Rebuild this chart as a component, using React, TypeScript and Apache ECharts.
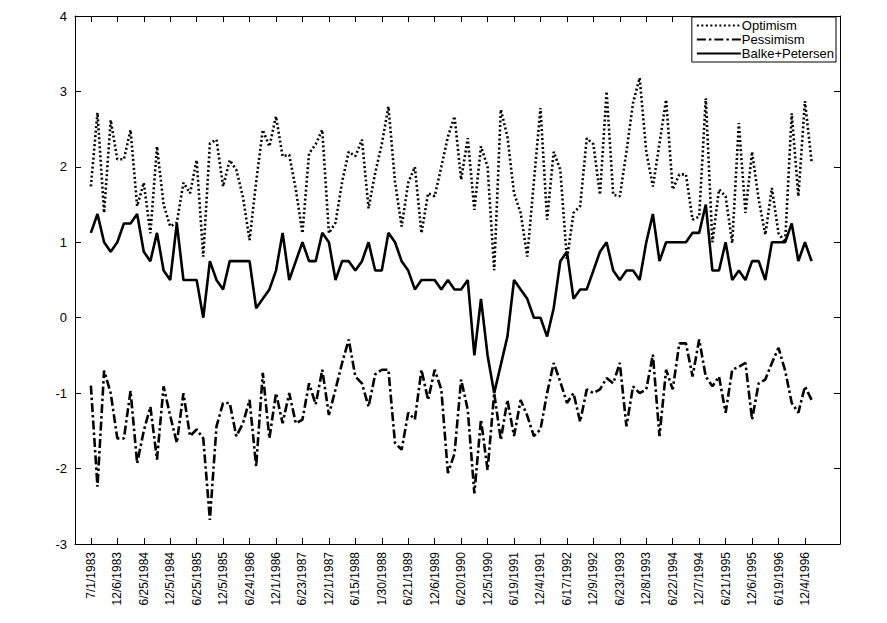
import { useEffect, useRef } from 'react';
import * as echarts from 'echarts';

// tick labels every 4th meeting (index into the series)
const tickLabels = [
  '7/1/1983', '12/6/1983', '6/25/1984', '12/5/1984', '6/25/1985', '12/5/1985', '6/24/1986',
  '12/1/1986', '6/23/1987', '12/1/1987', '6/15/1988', '1/30/1988', '6/21/1989', '12/6/1989',
  '6/20/1990', '12/5/1990', '6/19/1991', '12/4/1991', '6/17/1992', '12/9/1992', '6/23/1993',
  '12/8/1993', '6/22/1994', '12/7/1994', '6/21/1995', '12/6/1995', '6/19/1996', '12/4/1996',
];

const optimism = [
  1.74, 2.72, 1.39, 2.62, 2.1, 2.1, 2.49, 1.48, 1.79, 1.12,
  2.27, 1.5, 1.21, 1.26, 1.79, 1.65, 2.09, 0.81, 2.31, 2.36,
  1.74, 2.09, 1.96, 1.6, 1.03, 1.8, 2.49, 2.27, 2.67, 2.14,
  2.16, 1.7, 1.12, 2.18, 2.3, 2.49, 1.12, 1.26, 1.8, 2.2,
  2.14, 2.36, 1.45, 1.92, 2.3, 2.8, 1.8, 1.21, 1.79, 2.0,
  1.12, 1.65, 1.61, 2.0, 2.4, 2.67, 1.83, 2.38, 1.43, 2.27,
  2.0, 0.63, 2.76, 2.4, 1.65, 1.39, 0.81, 1.8, 2.78, 1.3,
  2.2, 1.96, 0.77, 1.39, 1.48, 2.38, 2.3, 1.63, 3.0, 1.63,
  1.61, 2.2, 2.85, 3.18, 2.2, 1.74, 2.31, 2.89, 1.7, 1.9,
  1.9, 1.3, 1.34, 2.91, 1.0, 1.7, 1.61, 0.99, 2.58, 1.39,
  2.2, 1.57, 1.1, 1.72, 1.12, 1.0, 2.71, 1.61, 2.87, 2.07,
];

const pessimism = [
  -0.9, -2.24, -0.7, -1.0, -1.6, -1.6, -0.97, -1.93, -1.5, -1.18,
  -1.88, -0.91, -1.3, -1.66, -1.0, -1.57, -1.48, -1.6, -2.68, -1.44,
  -1.13, -1.13, -1.57, -1.4, -1.09, -1.97, -0.73, -1.6, -1.0, -1.4,
  -1.0, -1.4, -1.35, -0.87, -1.15, -0.69, -1.29, -0.95, -0.6, -0.29,
  -0.78, -0.87, -1.18, -0.75, -0.69, -0.69, -1.66, -1.75, -1.26, -1.35,
  -0.69, -1.09, -0.69, -0.95, -2.06, -1.8, -0.82, -1.22, -2.33, -1.35,
  -2.02, -1.0, -1.62, -1.09, -1.57, -1.09, -1.3, -1.57, -1.48, -1.0,
  -0.6, -0.85, -1.13, -1.0, -1.38, -0.95, -1.0, -0.95, -0.8, -0.87,
  -0.6, -1.44, -0.91, -1.0, -0.95, -0.49, -1.57, -0.69, -0.95, -0.34,
  -0.34, -0.78, -0.29, -0.78, -0.91, -0.78, -1.26, -0.69, -0.65, -0.6,
  -1.35, -0.87, -0.82, -0.6, -0.4, -0.7, -1.13, -1.26, -0.91, -1.09,
];

const balkePetersen = [
  1.125, 1.375, 1.0, 0.875, 1.0, 1.25, 1.25, 1.375, 0.875, 0.75,
  1.125, 0.625, 0.5, 1.25, 0.5, 0.5, 0.5, 0.0, 0.75, 0.5,
  0.375, 0.75, 0.75, 0.75, 0.75, 0.125, 0.25, 0.375, 0.625, 1.125,
  0.5, 0.75, 1.0, 0.75, 0.75, 1.125, 1.0, 0.5, 0.75, 0.75,
  0.625, 0.75, 1.0, 0.625, 0.625, 1.125, 1.0, 0.75, 0.625, 0.375,
  0.5, 0.5, 0.5, 0.375, 0.5, 0.375, 0.375, 0.5, -0.5, 0.25,
  -0.5, -1.0, -0.625, -0.25, 0.5, 0.375, 0.25, 0.0, 0.0, -0.25,
  0.125, 0.75, 0.875, 0.25, 0.375, 0.375, 0.625, 0.875, 1.0, 0.625,
  0.5, 0.625, 0.625, 0.5, 1.0, 1.375, 0.75, 1.0, 1.0, 1.0,
  1.0, 1.125, 1.125, 1.5, 0.625, 0.625, 1.0, 0.5, 0.625, 0.5,
  0.75, 0.75, 0.5, 1.0, 1.0, 1.0, 1.25, 0.75, 1.0, 0.75,
];

const tickIdx = tickLabels.map((_, i) => i * 4);
const font = '"Liberation Sans", Arial, sans-serif';

const App = () => {
  const chartRef = useRef<HTMLDivElement | null>(null);

  useEffect(() => {
    document.body.style.margin = '0';
    if (!chartRef.current) return;
    const myChart = echarts.init(chartRef.current, null, { renderer: 'svg' });

    const pts = (arr: number[]) => arr.map((v, i) => [i, v]);
    const line = (name: string, data: number[], type: any) => ({
      name,
      type: 'line',
      data: pts(data),
      symbol: 'none',
      lineStyle: { color: '#000', width: 2.6, type },
      itemStyle: { color: '#000' },
    });

    const axisLine = { show: true, onZero: false, lineStyle: { color: '#000' } };
    const tick = { show: true, inside: true, length: 6, lineStyle: { color: '#000' } };

    const option = {
      animation: false,
      textStyle: { fontFamily: font },
      grid: { left: 75, right: 47, top: 16, bottom: 79 },
      legend: {
        orient: 'vertical',
        right: 51,
        top: 17,
        backgroundColor: '#fff',
        borderColor: '#000',
        borderWidth: 1,
        borderRadius: 0,
        padding: [2, 2, 2, 4],
        itemGap: 1,
        itemWidth: 44,
        itemHeight: 12,
        align: 'left',
        itemStyle: { opacity: 0 },
        textStyle: { fontSize: 13, lineHeight: 13, color: '#000', fontFamily: font, padding: [0, 0, 0, -4] },
        data: ['Optimism', 'Pessimism', 'Balke+Petersen'],
      },
      xAxis: [
        {
          type: 'value',
          min: -2.4,
          max: 113.3,
          splitLine: { show: false },
          axisLine,
          axisTick: { ...tick, customValues: tickIdx },
          axisLabel: {
            customValues: tickIdx,
            rotate: 90,
            fontSize: 12,
            color: '#000',
            margin: 8,
            formatter: (v: number) => tickLabels[Math.round(v / 4)] ?? '',
          },
        },
        {
          type: 'value',
          position: 'top',
          min: -2.4,
          max: 113.3,
          splitLine: { show: false },
          axisLine,
          axisTick: { ...tick, customValues: tickIdx },
          axisLabel: { show: false },
        },
      ],
      yAxis: [
        {
          type: 'value',
          min: -3,
          max: 4,
          interval: 1,
          splitLine: { show: false },
          axisLine,
          axisTick: tick,
          axisLabel: { fontSize: 13, color: '#000', margin: 8 },
        },
        {
          type: 'value',
          position: 'right',
          min: -3,
          max: 4,
          interval: 1,
          splitLine: { show: false },
          axisLine,
          axisTick: tick,
          axisLabel: { show: false },
        },
      ],
      series: [
        line('Optimism', optimism, [2, 2.5]),
        line('Pessimism', pessimism, [9, 3, 2.5, 3]),
        line('Balke+Petersen', balkePetersen, 'solid'),
      ],
    };

    myChart.setOption(option);
    return () => {
      myChart.dispose();
    };
  }, []);

  return <div ref={chartRef} style={{ width: '887px', height: '623px' }} />;
};

export default App;
